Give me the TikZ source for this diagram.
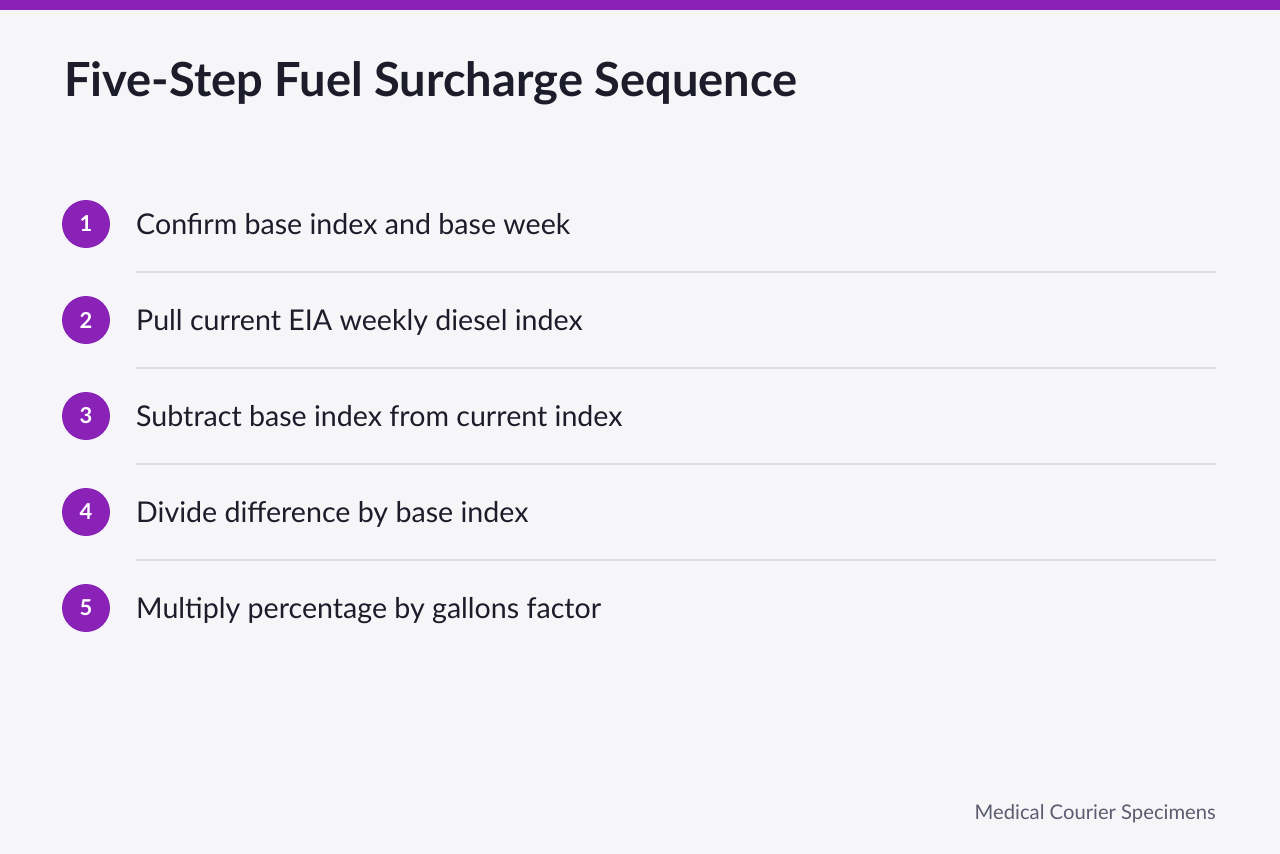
\documentclass[tikz,border=0pt]{standalone}
\usepackage{fontspec}
\setmainfont{Lato}
\definecolor{bg}{HTML}{F6F6F9}
\definecolor{barpurple}{HTML}{8A22B8}
\definecolor{ink}{HTML}{1C1C2A}
\definecolor{rule}{HTML}{DCDCE4}
\definecolor{muted}{HTML}{5C5C70}
\tikzset{
    stepnum/.style={circle, fill=barpurple, minimum size=48bp, inner sep=0pt, text=white, font=\fontsize{22}{22}\selectfont\bfseries},
    steptext/.style={anchor=base west, inner sep=0pt, text=ink, font=\fontsize{28.7}{28.7}\selectfont},
    steprule/.style={rule, line width=1.2bp}
}
\begin{document}
\begin{tikzpicture}[x=1bp, y=-1bp]
        \fill [bg] (0, 0) rectangle (1280, 854);
        \useasboundingbox (0, 0) rectangle (1280, 854);
        \fill [barpurple] (0, 0) rectangle (1280, 10);
        \node [anchor=base west, inner sep=0pt, text=ink, font=\fontsize{47.2}{47.2}\selectfont\bfseries] (title) at (64, 96) {Five-Step Fuel Surcharge Sequence};

        \node [stepnum] (n1) at (86, 224) {1};
        \node [steptext] (t1) at (136, 234) {Confirm base index and base week};
        \draw [steprule] (136, 272) -- (1216, 272);

        \node [stepnum] (n2) at (86, 320) {2};
        \node [steptext] (t2) at (136, 330) {Pull current EIA weekly diesel index};
        \draw [steprule] (136, 368) -- (1216, 368);

        \node [stepnum] (n3) at (86, 416) {3};
        \node [steptext] (t3) at (136, 426) {Subtract base index from current index};
        \draw [steprule] (136, 464) -- (1216, 464);

        \node [stepnum] (n4) at (86, 512) {4};
        \node [steptext] (t4) at (136, 522) {Divide difference by base index};
        \draw [steprule] (136, 560) -- (1216, 560);

        \node [stepnum] (n5) at (86, 608) {5};
        \node [steptext] (t5) at (136, 618) {Multiply percentage by gallons factor};

        \node [anchor=base east, inner sep=0pt, text=muted, font=\fontsize{20.3}{20.3}\selectfont] (source) at (1216, 819) {Medical Courier Specimens};
    \end{tikzpicture}
\end{document}
